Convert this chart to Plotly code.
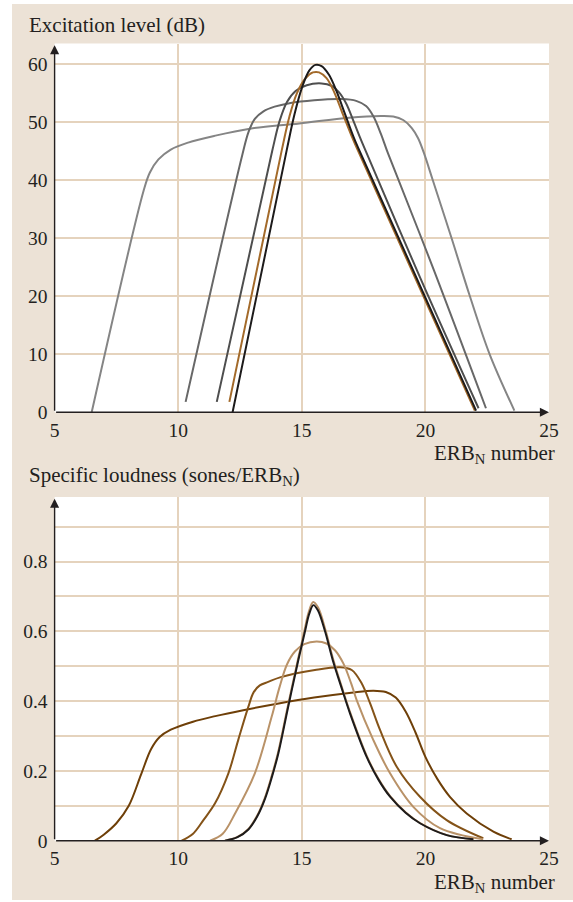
import plotly.graph_objects as go

W, H = 573, 902

# ---------------- Data: excitation patterns (top) ----------------
exc_a_x = [6.5, 8.6, 8.85, 9.2, 9.7, 10.4, 11.5, 12.9, 14.9, 16.9, 18.2, 18.7, 19.1, 19.45, 19.7, 19.95, 20.3, 21.06, 21.8, 22.6, 23.6]
exc_a_y = [0, 38.2, 41.3, 43.6, 45.3, 46.5, 47.7, 48.9, 49.8, 50.8, 51.1, 51.0, 50.4, 49.0, 47.3, 44.6, 40.0, 30.0, 20.0, 10.0, 0.3]

exc_b_x = [10.3, 12.6, 12.85, 13.1, 13.45, 13.9, 14.5, 15.5, 16.6, 17.2, 17.6, 17.9, 18.2, 18.5, 20.3, 22.45]
exc_b_y = [1.8, 44.5, 48.4, 50.6, 51.9, 52.7, 53.3, 53.8, 54.0, 53.7, 52.8, 51.0, 48.0, 44.5, 25.0, 0.7]

exc_c_x = [11.56, 13.8, 14.1, 14.4, 14.75, 15.2, 15.8, 16.2, 16.5, 16.8, 17.1, 17.45, 19.8, 22.15]
exc_c_y = [1.8, 45.0, 50.2, 53.5, 55.4, 56.4, 56.7, 56.3, 55.2, 53.2, 50.1, 46.4, 23.1, 0.7]

exc_d_x = [12.07, 14.19, 14.5, 14.8, 15.15, 15.45, 15.7, 16.0, 16.3, 16.65, 17.0, 17.2, 22.0]
exc_d_y = [1.8, 45.2, 51.0, 55.0, 57.6, 58.6, 58.6, 57.6, 55.3, 51.5, 47.8, 45.8, 0.3]

exc_e_x = [12.2, 14.39, 14.7, 15.0, 15.3, 15.55, 15.8, 16.1, 16.4, 16.75, 17.1, 17.3, 22.05]
exc_e_y = [0, 45.2, 51.3, 55.9, 58.9, 59.9, 59.7, 58.2, 55.4, 51.4, 47.4, 45.4, 0.3]

# ---------------- Data: specific loudness patterns (bottom) ----------------
ld_a_x = [6.63, 7.0, 7.5, 8.0, 8.5, 8.9, 9.25, 9.7, 10.6, 11.5, 12.63, 14.12, 15.5, 17.0, 17.9, 18.4, 18.8, 19.2, 19.6, 20.0, 20.5, 21.0, 21.67, 22.75, 23.49]
ld_a_y = [0, 0.018, 0.05, 0.1, 0.19, 0.262, 0.297, 0.318, 0.341, 0.357, 0.374, 0.394, 0.41, 0.424, 0.43, 0.426, 0.41, 0.37, 0.31, 0.24, 0.175, 0.125, 0.078, 0.026, 0.004]

ld_b_x = [10.14, 10.6, 11.02, 11.49, 12.03, 12.43, 12.84, 13.05, 13.3, 13.64, 14.12, 15.53, 16.55, 17.02, 17.42, 17.76, 18.16, 18.84, 19.78, 20.86, 22.34]
ld_b_y = [0, 0.02, 0.059, 0.107, 0.193, 0.289, 0.384, 0.425, 0.445, 0.455, 0.468, 0.489, 0.497, 0.489, 0.451, 0.394, 0.318, 0.212, 0.126, 0.059, 0.007]

ld_c_x = [11.29, 11.8, 12.3, 13.1, 13.78, 14.1, 14.4, 14.72, 15.1, 15.6, 16.0, 16.35, 16.68, 17.0, 17.22, 17.89, 18.57, 19.51, 20.59, 22.34]
ld_c_y = [0, 0.02, 0.078, 0.193, 0.355, 0.44, 0.505, 0.542, 0.563, 0.571, 0.565, 0.545, 0.508, 0.45, 0.403, 0.289, 0.193, 0.097, 0.036, 0.004]

ld_d_x = [11.88, 12.38, 12.82, 13.18, 13.49, 13.78, 14.03, 14.43, 14.84, 15.11, 15.28, 15.46, 15.66, 15.96, 16.27, 16.62, 16.97, 17.64, 18.12, 18.59, 19.22, 19.8, 20.88, 21.95]
ld_d_y = [0, 0.01, 0.032, 0.07, 0.12, 0.185, 0.25, 0.384, 0.518, 0.603, 0.655, 0.684, 0.668, 0.603, 0.52, 0.44, 0.365, 0.241, 0.175, 0.126, 0.08, 0.05, 0.016, 0.004]

ld_e_x = [11.9, 12.4, 12.84, 13.2, 13.51, 13.8, 14.05, 14.45, 14.86, 15.13, 15.3, 15.47, 15.65, 15.94, 16.25, 16.6, 16.95, 17.62, 18.1, 18.57, 19.2, 19.78, 20.86, 21.94]
ld_e_y = [0, 0.01, 0.032, 0.07, 0.12, 0.185, 0.25, 0.384, 0.518, 0.6, 0.65, 0.675, 0.66, 0.6, 0.518, 0.44, 0.365, 0.241, 0.175, 0.126, 0.08, 0.05, 0.016, 0.004]

x_ticks = [5, 10, 15, 20, 25]
x_grid = [10, 15, 20]
top_y_ticks = [0, 10, 20, 30, 40, 50, 60]
top_y_grid = [10, 20, 30, 40, 50, 60]
bot_y_ticks = [0, 0.2, 0.4, 0.6, 0.8]
bot_y_ticklabels = ["0", "0.2", "0.4", "0.6", "0.8"]
bot_y_grid = [0.1, 0.2, 0.3, 0.4, 0.5, 0.6, 0.7, 0.8, 0.9]

top_title = "Excitation level (dB)"
bot_title = "Specific loudness (sones/ERB<sub>N</sub>)"
x_title = "ERB<sub>N</sub> number"

# ---------------- Styles ----------------
BEIGE = "#ece2d6"
GRID = "#e5d3bd"
AXC = "#231f20"
FONT = "Liberation Serif"
FS_TICK = 19.5
FS_TITLE = 21

top_series = [
    (exc_a_x, exc_a_y, "#858585"),
    (exc_b_x, exc_b_y, "#686868"),
    (exc_c_x, exc_c_y, "#4e4e4e"),
    (exc_d_x, exc_d_y, "#a36a2a"),
    (exc_e_x, exc_e_y, "#1d1b1b"),
]
bot_series = [
    (ld_a_x, ld_a_y, "#6e3f08"),
    (ld_b_x, ld_b_y, "#845318"),
    (ld_c_x, ld_c_y, "#b99268"),
    (ld_d_x, ld_d_y, "#b99268"),
    (ld_e_x, ld_e_y, "#1d1b1b"),
]

fig = go.Figure()
for xs, ys, c in top_series:
    fig.add_trace(go.Scatter(x=xs, y=ys, mode="lines", xaxis="x", yaxis="y",
                             line=dict(color=c, width=2, shape="spline", smoothing=1.0),
                             hoverinfo="skip", showlegend=False))
for xs, ys, c in bot_series:
    fig.add_trace(go.Scatter(x=xs, y=ys, mode="lines", xaxis="x2", yaxis="y2",
                             line=dict(color=c, width=2, shape="spline", smoothing=1.0),
                             hoverinfo="skip", showlegend=False))

def px_x(p):
    return p / W

def px_y(p):
    return 1 - p / H

x_dom = [px_x(54.6), px_x(549.0)]
top_dom = [px_y(412.3), px_y(43.5)]
bot_dom = [px_y(840.7), px_y(497.0)]
top_ymax = (412.3 - 43.5) / 5.8
bot_ymax = (840.7 - 497.0) / 349.0

tickfont = dict(family=FONT, size=FS_TICK, color="#231f20")

def xaxis_cfg(anchor):
    return dict(domain=x_dom, range=[5, 25], anchor=anchor, tickvals=x_ticks,
                showgrid=False, zeroline=False, showline=False, ticks="", automargin=False,
                ticklabelstandoff=4, tickfont=tickfont, fixedrange=True,
                minor=dict(tickvals=x_grid, showgrid=True, gridcolor=GRID, gridwidth=1.5, ticks=""))

fig.update_layout(
    template="none",
    width=W, height=H, autosize=False,
    margin=dict(l=0, r=0, t=0, b=0, pad=0, autoexpand=False),
    paper_bgcolor=BEIGE,
    plot_bgcolor="white",
    showlegend=False,
    xaxis=xaxis_cfg("y"),
    xaxis2=xaxis_cfg("y2"),
    yaxis=dict(domain=top_dom, range=[0, top_ymax], anchor="x", tickvals=top_y_ticks,
               showgrid=False, zeroline=False, showline=False, ticks="", automargin=False,
               ticklabelstandoff=6, tickfont=tickfont, fixedrange=True,
               minor=dict(tickvals=top_y_grid, showgrid=True, gridcolor=GRID, gridwidth=1.5, ticks="")),
    yaxis2=dict(domain=bot_dom, range=[0, bot_ymax], anchor="x2", tickvals=bot_y_ticks,
                ticktext=bot_y_ticklabels, automargin=False,
                showgrid=False, zeroline=False, showline=False, ticks="",
                ticklabelstandoff=6, tickfont=tickfont, fixedrange=True,
                minor=dict(tickvals=bot_y_grid, showgrid=True, gridcolor=GRID, gridwidth=1.5, ticks="")),
)

# white margins around the beige panel
fig.add_shape(type="rect", xref="paper", yref="paper", x0=0, x1=px_x(12), y0=0, y1=1,
              fillcolor="white", line_width=0, layer="below")
fig.add_shape(type="rect", xref="paper", yref="paper", x0=0, x1=1, y0=px_y(4), y1=1,
              fillcolor="white", line_width=0, layer="below")
fig.add_shape(type="rect", xref="paper", yref="paper", x0=0, x1=1, y0=0, y1=px_y(900),
              fillcolor="white", line_width=0, layer="below")

# axis arrows
arrow = dict(text="", showarrow=True, arrowhead=2, arrowsize=1.3, arrowwidth=1.4,
             arrowcolor=AXC, standoff=0, startstandoff=0)
fig.add_annotation(x=25, y=0, ax=5, ay=0, xref="x", yref="y", axref="x", ayref="y", **arrow)
fig.add_annotation(x=5, y=top_ymax - 0.3, ax=5, ay=0, xref="x", yref="y", axref="x", ayref="y", **arrow)
fig.add_annotation(x=25, y=0, ax=5, ay=0, xref="x2", yref="y2", axref="x2", ayref="y2", **arrow)
fig.add_annotation(x=5, y=bot_ymax - 0.005, ax=5, ay=0, xref="x2", yref="y2", axref="x2", ayref="y2", **arrow)

# titles
tfont = dict(family=FONT, size=FS_TITLE, color="#231f20")
fig.add_annotation(text=top_title, x=px_x(27), y=px_y(25), xref="paper", yref="paper",
                   xanchor="left", yanchor="middle", showarrow=False, font=tfont)
fig.add_annotation(text=x_title, x=px_x(557), y=px_y(453.5), xref="paper", yref="paper",
                   xanchor="right", yanchor="middle", showarrow=False, font=tfont)
fig.add_annotation(text=bot_title, x=px_x(27), y=px_y(476), xref="paper", yref="paper",
                   xanchor="left", yanchor="middle", showarrow=False, font=tfont)
fig.add_annotation(text=x_title, x=px_x(557), y=px_y(883), xref="paper", yref="paper",
                   xanchor="right", yanchor="middle", showarrow=False, font=tfont)

fig.write_html("out.html", config={"responsive": False, "displayModeBar": False})
